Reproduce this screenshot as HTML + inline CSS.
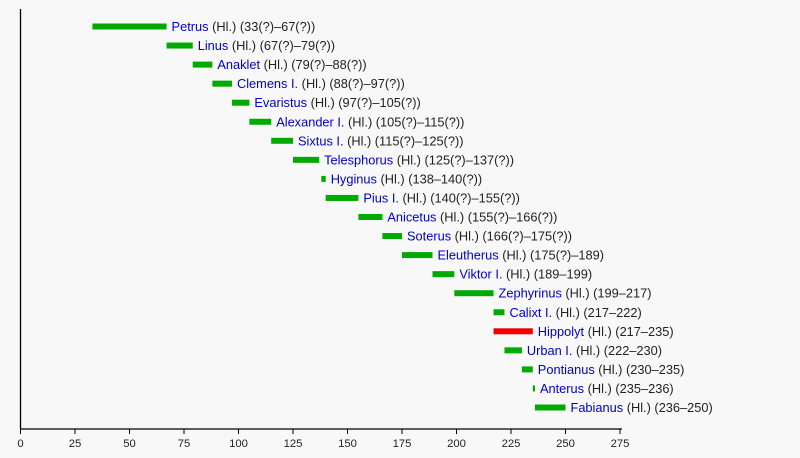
<!DOCTYPE html>
<html><head><meta charset="utf-8"><style>
body{margin:0;background:#f8f8f8}
svg{display:block;font-family:"Liberation Sans",sans-serif}
</style></head><body>
<svg width="800" height="458" xmlns="http://www.w3.org/2000/svg">
<rect width="800" height="458" fill="#f8f8f8"/>
<g id="bars"></g>
<line x1="20.5" y1="9" x2="20.5" y2="429" stroke="#000" stroke-width="1.3"/>
<line x1="20" y1="429" x2="622" y2="429" stroke="#000" stroke-width="1.3"/>
<g id="ticks" font-size="11.3" text-anchor="middle" fill="#222"></g>
<script>
var d=[["Petrus","33(?)","67(?)",33,67],["Linus","67(?)","79(?)",67,79],["Anaklet","79(?)","88(?)",79,88],["Clemens I.","88(?)","97(?)",88,97],["Evaristus","97(?)","105(?)",97,105],["Alexander I.","105(?)","115(?)",105,115],["Sixtus I.","115(?)","125(?)",115,125],["Telesphorus","125(?)","137(?)",125,137],["Hyginus","138","140(?)",138,140],["Pius I.","140(?)","155(?)",140,155],["Anicetus","155(?)","166(?)",155,166],["Soterus","166(?)","175(?)",166,175],["Eleutherus","175(?)","189",175,189],["Viktor I.","189","199",189,199],["Zephyrinus","199","217",199,217],["Calixt I.","217","222",217,222],["Hippolyt","217","235",217,235],["Urban I.","222","230",222,230],["Pontianus","230","235",230,235],["Anterus","235","236",235,236],["Fabianus","236","250",236,250]];
var ns="http://www.w3.org/2000/svg",g=document.getElementById("bars");
function X(v){return 20.5+v*2.18}
d.forEach(function(r,i){var cy=26.5+i*19.05;
var b=document.createElementNS(ns,"rect");b.setAttribute("x",X(r[3]));b.setAttribute("y",cy-3);b.setAttribute("width",X(r[4])-X(r[3]));b.setAttribute("height",6);b.setAttribute("fill",r[0]=="Hippolyt"?"#ee0000":"#00aa00");g.appendChild(b);
var t=document.createElementNS(ns,"text");t.setAttribute("x",X(r[4])+5);t.setAttribute("y",cy+4.5);t.setAttribute("font-size","12.8");t.setAttribute("fill","#222");
var s1=document.createElementNS(ns,"tspan");s1.setAttribute("fill","#0000cc");s1.textContent=r[0];t.appendChild(s1);
var s2=document.createElementNS(ns,"tspan");s2.textContent=" (Hl.) ("+r[1]+"–"+r[2]+")";t.appendChild(s2);
g.appendChild(t);});
var tk=document.getElementById("ticks");
for(var v=0;v<=275;v+=25){var x=X(v);var l=document.createElementNS(ns,"line");l.setAttribute("x1",x);l.setAttribute("x2",x);l.setAttribute("y1",429);l.setAttribute("y2",434);l.setAttribute("stroke","#000");tk.appendChild(l);
var t=document.createElementNS(ns,"text");t.setAttribute("x",x);t.setAttribute("y",447);t.textContent=v;tk.appendChild(t);}
</script>
</svg>
</body></html>
